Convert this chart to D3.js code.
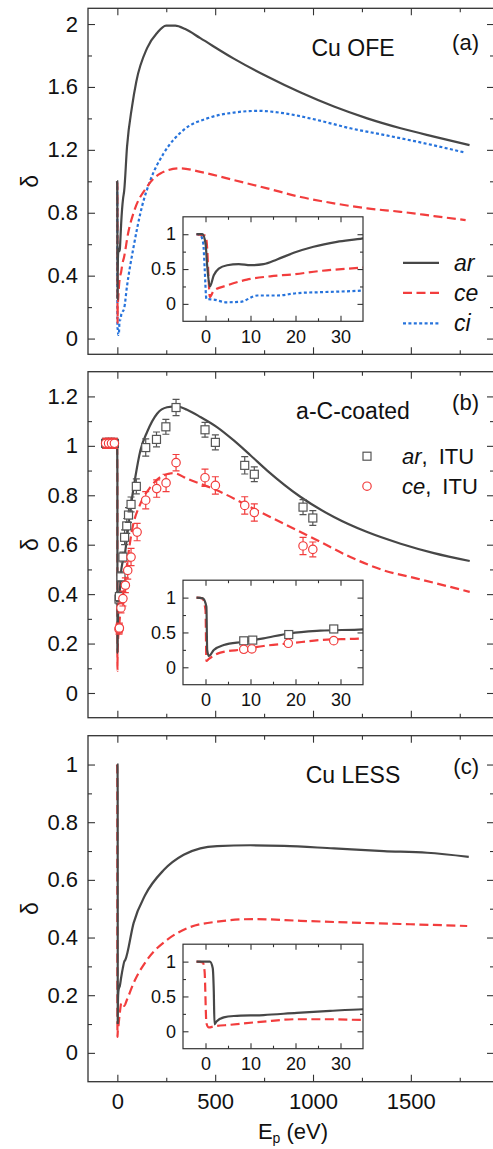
<!DOCTYPE html>
<html>
<head>
<meta charset="utf-8">
<script src="https://cdn.jsdelivr.net/npm/d3@7"></script>
<style>
  html, body { margin: 0; padding: 0; background: #fff; }
  svg { display: block; font-family: "Liberation Sans", Arial, Helvetica, sans-serif; }
</style>
</head>
<body>
<svg id="chart" width="493" height="1149"></svg>
<script>
// Tick values
const energyTicks = [0, 500, 1000, 1500];
const energyMinor = [250, 750, 1250, 1750];
const insetXTicks = [0, 10, 20, 30];
const insetXMinor = [5, 15, 25];
const insetYTicks = [0, 0.5, 1];
const insetYMinor = [0.25, 0.75];

// (a) Cu OFE
const ofeYTicks = [0, 0.4, 0.8, 1.2, 1.6, 2];
const ofeYMinor = [0.2, 0.6, 1.0, 1.4, 1.8];
const ofeArE = [-2, -0.7, 0, 0.4, 0.96, 1.84, 2.95, 4.8, 7.4, 10, 12.9, 15.9, 19.6, 24, 29.2, 35, 49.5, 75, 97, 152, 203, 249, 296, 347, 424, 595, 766, 937, 1107, 1277, 1448, 1618, 1800];
const ofeArD = [1.0, 1.0, 0.87, 0.53, 0.25, 0.41, 0.507, 0.555, 0.57, 0.555, 0.57, 0.638, 0.733, 0.82, 0.89, 0.94, 1.22, 1.475, 1.635, 1.847, 1.943, 1.99, 1.99, 1.968, 1.91, 1.78, 1.666, 1.564, 1.475, 1.40, 1.337, 1.284, 1.23];
const ofeCeE = [-2, -1, 0, 0.4, 0.7, 0.96, 1.84, 4.8, 9.2, 14.4, 19.6, 25.5, 35, 55, 83, 152, 220, 322, 424, 595, 766, 937, 1107, 1277, 1448, 1618, 1780];
const ofeCeD = [1.0, 0.99, 0.98, 0.77, 0.34, 0.1, 0.19, 0.265, 0.348, 0.396, 0.425, 0.473, 0.522, 0.67, 0.80, 0.966, 1.05, 1.083, 1.06, 1.008, 0.955, 0.90, 0.86, 0.828, 0.806, 0.779, 0.753];
const ofeCiE = [-2, -1.1, -0.5, -0.2, 0.2, 1.84, 4.7, 7.8, 11.5, 15.9, 20.3, 25.5, 35, 49, 83, 126, 169, 237, 339, 459, 595, 722, 850, 1020, 1191, 1362, 1532, 1779];
const ofeCiD = [1.0, 0.98, 0.87, 0.53, 0.072, 0.062, 0.023, 0.03, 0.12, 0.12, 0.154, 0.168, 0.193, 0.33, 0.583, 0.84, 1.008, 1.178, 1.327, 1.40, 1.437, 1.448, 1.433, 1.39, 1.337, 1.295, 1.252, 1.182];

// (b) a-C-coated
const acYTicks = [0, 0.2, 0.4, 0.6, 0.8, 1, 1.2];
const acYMinor = [0.1, 0.3, 0.5, 0.7, 0.9, 1.1];
const acArE = [-2, -0.6, 0.2, 0.37, 0.74, 1.84, 4.06, 8.5, 12.9, 18.8, 25.5, 35, 41, 66, 92, 118, 152, 203, 254, 305, 356, 424, 509, 595, 680, 766, 937, 1107, 1277, 1448, 1618, 1801];
const acArD = [1.0, 0.99, 0.87, 0.248, 0.162, 0.248, 0.32, 0.367, 0.416, 0.488, 0.525, 0.545, 0.577, 0.739, 0.874, 0.982, 1.056, 1.13, 1.156, 1.16, 1.146, 1.117, 1.076, 1.022, 0.962, 0.90, 0.793, 0.712, 0.651, 0.604, 0.566, 0.534];
const acCeE = [-2, -0.7, 0, 0.2, 0.74, 3.3, 8.5, 12.9, 18.8, 25.5, 35, 45, 75, 118, 169, 237, 288, 356, 509, 680, 851, 1021, 1191, 1362, 1532, 1801];
const acCeD = [1.0, 0.99, 0.82, 0.09, 0.12, 0.21, 0.258, 0.306, 0.344, 0.392, 0.416, 0.49, 0.658, 0.766, 0.833, 0.881, 0.89, 0.867, 0.82, 0.752, 0.685, 0.618, 0.55, 0.496, 0.463, 0.409];
// ITU measurements
const ituArE = [-60, -45, -30, -15, 8.5, 10.5, 18.5, 28.5, 37, 48, 57, 70, 97, 145, 200, 248, 300, 448, 501, 651, 700, 949, 999];
const ituArD = [1.01, 1.01, 1.01, 1.01, 0.38, 0.39, 0.47, 0.55, 0.63, 0.676, 0.72, 0.763, 0.836, 0.993, 1.026, 1.077, 1.155, 1.065, 1.014, 0.921, 0.885, 0.752, 0.708];
const ituArErr = [0.02, 0.02, 0.02, 0.02, 0.02, 0.02, 0.02, 0.02, 0.03, 0.03, 0.03, 0.03, 0.03, 0.035, 0.03, 0.03, 0.033, 0.03, 0.03, 0.035, 0.03, 0.03, 0.03];
const ituCeE = [-60, -45, -30, -15, 8.5, 10.3, 18.4, 28.5, 41, 53, 70, 101, 145, 201, 249, 300, 448, 501, 651, 700, 949, 999];
const ituCeD = [1.01, 1.01, 1.01, 1.01, 0.258, 0.263, 0.344, 0.382, 0.436, 0.496, 0.55, 0.651, 0.78, 0.827, 0.85, 0.932, 0.871, 0.84, 0.759, 0.73, 0.595, 0.581];
const ituCeErr = [0.02, 0.02, 0.02, 0.02, 0.02, 0.02, 0.02, 0.03, 0.03, 0.035, 0.035, 0.035, 0.035, 0.035, 0.035, 0.033, 0.035, 0.035, 0.035, 0.035, 0.035, 0.03];

// (c) Cu LESS
const lessYTicks = [0, 0.2, 0.4, 0.6, 0.8, 1];
const lessYMinor = [0.1, 0.3, 0.5, 0.7, 0.9];
const lessArE = [-2, 0.96, 1.6, 1.84, 2.0, 2.44, 4.06, 6.3, 12.9, 20.3, 27.7, 35, 41, 83, 143, 237, 339, 424, 510, 680, 851, 1107, 1362, 1583, 1796];
const lessArD = [1.0, 1.0, 0.91, 0.58, 0.1, 0.14, 0.2, 0.219, 0.233, 0.265, 0.293, 0.316, 0.323, 0.45, 0.548, 0.634, 0.687, 0.709, 0.717, 0.72, 0.718, 0.709, 0.70, 0.694, 0.68];
const lessCeE = [-2, -0.6, -0.2, 0.2, 0.74, 1.84, 5.5, 12.9, 20.3, 27.7, 35, 49, 83, 152, 254, 356, 509, 697, 937, 1191, 1448, 1788];
const lessCeD = [1.0, 0.99, 0.86, 0.117, 0.055, 0.07, 0.093, 0.14, 0.173, 0.173, 0.163, 0.184, 0.242, 0.323, 0.392, 0.432, 0.455, 0.464, 0.458, 0.452, 0.447, 0.44];

const COL = { ar: "#474747", ce: "#f23d3d", ci: "#2673dc", axis: "#333" };
const STYLE = {
  ar: { color: COL.ar, dash: null },
  ce: { color: COL.ce, dash: "9,4.5" },
  ci: { color: COL.ci, dash: "3,2.4" },
};

const PANEL_H = 346;
const FRAME_L = 88, FRAME_R = 494;
const INSET = { x0: 183, x1: 363, top: 208.5, h: 104.5 };

const svg = d3.select("#chart");

const zip = (xs, ys) => xs.map((v, i) => [v, ys[i]]);

// inward ticks on one side of a frame
function frameTicks(g, scale, orient, values, size, fmt, pad, fontSize, at) {
  const mk = { left: d3.axisLeft, right: d3.axisRight, top: d3.axisTop, bottom: d3.axisBottom }[orient];
  const ax = mk(scale)
    .tickValues(values)
    .tickSize(-size)
    .tickPadding(pad)
    .tickFormat(fmt || (() => ""));
  const pos = orient === "left" || orient === "right" ? `translate(${at},0)` : `translate(0,${at})`;
  const a = g.append("g").attr("transform", pos).call(ax);
  a.select(".domain").remove();
  a.selectAll("line").attr("stroke", COL.axis).attr("stroke-width", 1.1);
  a.selectAll("text").attr("fill", "#111").attr("font-size", fontSize).attr("font-family", null);
  return a;
}

function drawSeries(g, x, y, s, clipId) {
  const line = d3.line().x((d) => x(d[0])).y((d) => y(d[1])).curve(d3.curveMonotoneX);
  g.append("path")
    .attr("clip-path", `url(#${clipId})`)
    .attr("d", line(zip(s.E, s.D)))
    .attr("fill", "none")
    .attr("stroke", STYLE[s.key].color)
    .attr("stroke-width", 2.2)
    .attr("stroke-dasharray", STYLE[s.key].dash);
}

function drawPoints(g, x, y, pts, clipId) {
  pts.forEach((p) => {
    const gg = g.append("g").attr("clip-path", `url(#${clipId})`);
    const data = p.E.map((e, i) => ({ e, d: p.D[i], err: p.err[i] }));
    const grp = gg.selectAll("g").data(data).enter().append("g")
      .attr("stroke", p.color).attr("fill", "none").attr("stroke-width", 1.2);
    grp.append("line")
      .attr("x1", (d) => x(d.e)).attr("x2", (d) => x(d.e))
      .attr("y1", (d) => y(d.d - d.err)).attr("y2", (d) => y(d.d + d.err));
    [-1, 1].forEach((sgn) => {
      grp.append("line")
        .attr("x1", (d) => x(d.e) - 3.5).attr("x2", (d) => x(d.e) + 3.5)
        .attr("y1", (d) => y(d.d + sgn * d.err)).attr("y2", (d) => y(d.d + sgn * d.err));
    });
    if (p.shape === "square") {
      grp.append("rect")
        .attr("x", (d) => x(d.e) - 4).attr("y", (d) => y(d.d) - 4)
        .attr("width", 8).attr("height", 8).attr("fill", "#fff");
    } else {
      grp.append("circle")
        .attr("cx", (d) => x(d.e)).attr("cy", (d) => y(d.d))
        .attr("r", 4.2).attr("fill", "#fff");
    }
  });
}

function drawPanel(p, idx) {
  const g = svg.append("g").attr("transform", `translate(0,${p.top})`);
  const x = d3.scaleLinear().domain([-150, 1925]).range([FRAME_L, FRAME_R]);
  const y = d3.scaleLinear().domain(p.yDomain).range([PANEL_H, 0]);
  const clipMain = `clip-main-${idx}`, clipIn = `clip-in-${idx}`;
  const defs = g.append("defs");
  defs.append("clipPath").attr("id", clipMain).append("rect")
    .attr("x", FRAME_L).attr("y", 0).attr("width", FRAME_R - FRAME_L).attr("height", PANEL_H);
  defs.append("clipPath").attr("id", clipIn).append("rect")
    .attr("x", INSET.x0).attr("y", INSET.top).attr("width", INSET.x1 - INSET.x0).attr("height", INSET.h);

  // main curves
  p.series.forEach((s) => drawSeries(g, x, y, s, clipMain));
  if (p.points) drawPoints(g, x, y, p.points, clipMain);

  // main frame ticks
  const fmt = (d) => String(+d.toFixed(2));
  frameTicks(g, y, "left", p.yTicks, 7, fmt, 10, 22, FRAME_L);
  frameTicks(g, y, "left", p.yMinor, 4, null, 0, 0, FRAME_L);
  frameTicks(g, y, "right", p.yTicks, 7, null, 0, 0, FRAME_R);
  frameTicks(g, y, "right", p.yMinor, 4, null, 0, 0, FRAME_R);
  frameTicks(g, x, "top", energyTicks, 7, null, 0, 0, 0);
  frameTicks(g, x, "top", energyMinor, 4, null, 0, 0, 0);
  frameTicks(g, x, "bottom", energyTicks, 7, p.xLabels ? fmt : null, 12, 22, PANEL_H);
  frameTicks(g, x, "bottom", energyMinor, 4, null, 0, 0, PANEL_H);
  g.append("rect")
    .attr("x", FRAME_L).attr("y", 0).attr("width", FRAME_R - FRAME_L).attr("height", PANEL_H)
    .attr("fill", "none").attr("stroke", COL.axis).attr("stroke-width", 1.3);

  // y label
  g.append("text")
    .attr("transform", `translate(30,${PANEL_H / 2}) rotate(-90)`)
    .attr("text-anchor", "middle").attr("dy", "0.35em")
    .attr("font-size", 23).attr("fill", "#111").text("δ");

  // annotation texts
  g.append("text").attr("x", 353).attr("y", 47.5).attr("text-anchor", "middle")
    .attr("font-size", 23).attr("fill", "#111").text(p.title);
  g.append("text").attr("x", 479).attr("y", p.labelY).attr("text-anchor", "end")
    .attr("font-size", 22).attr("fill", "#111").text(p.label);

  // inset
  const xi = d3.scaleLinear().domain([-5, 35]).range([INSET.x0, INSET.x1]);
  const yi = d3.scaleLinear().domain([-0.25, 1.25]).range([INSET.top + INSET.h, INSET.top]);
  g.append("rect")
    .attr("x", INSET.x0).attr("y", INSET.top).attr("width", INSET.x1 - INSET.x0).attr("height", INSET.h)
    .attr("fill", "#fff");
  p.series.forEach((s) => drawSeries(g, xi, yi, s, clipIn));
  if (p.points) drawPoints(g, xi, yi, p.points.map((q) => ({ ...q, err: q.err.map(() => 0) })), clipIn);
  frameTicks(g, yi, "left", insetYTicks, 5.5, fmt, 7, 18, INSET.x0);
  frameTicks(g, yi, "left", insetYMinor, 3, null, 0, 0, INSET.x0);
  frameTicks(g, yi, "right", insetYTicks, 5.5, null, 0, 0, INSET.x1);
  frameTicks(g, yi, "right", insetYMinor, 3, null, 0, 0, INSET.x1);
  frameTicks(g, xi, "bottom", insetXTicks, 5.5, fmt, 9, 18, INSET.top + INSET.h);
  frameTicks(g, xi, "bottom", insetXMinor, 3, null, 0, 0, INSET.top + INSET.h);
  frameTicks(g, xi, "top", insetXTicks, 5.5, null, 0, 0, INSET.top);
  frameTicks(g, xi, "top", insetXMinor, 3, null, 0, 0, INSET.top);
  g.append("rect")
    .attr("x", INSET.x0).attr("y", INSET.top).attr("width", INSET.x1 - INSET.x0).attr("height", INSET.h)
    .attr("fill", "none").attr("stroke", COL.axis).attr("stroke-width", 1.2);

  if (p.legend) p.legend(g);
  return g;
}

const panels = [
  {
    top: 8.3, yDomain: [-0.1, 2.1], yTicks: ofeYTicks, yMinor: ofeYMinor,
    title: "Cu OFE", label: "(a)", labelY: 41.5,
    series: [
      { key: "ci", E: ofeCiE, D: ofeCiD },
      { key: "ce", E: ofeCeE, D: ofeCeD },
      { key: "ar", E: ofeArE, D: ofeArD },
    ],
    legend: (g) => {
      [["ar", 254.5], ["ce", 284.5], ["ci", 315]].forEach(([k, yy]) => {
        g.append("line").attr("x1", 403).attr("x2", 439).attr("y1", yy).attr("y2", yy)
          .attr("stroke", STYLE[k].color).attr("stroke-width", 2.2)
          .attr("stroke-dasharray", STYLE[k].dash);
        g.append("text").attr("x", 454).attr("y", yy).attr("dy", "0.35em")
          .attr("font-size", 23).attr("font-style", "italic").attr("fill", "#111").text(k);
      });
    },
  },
  {
    top: 371.7, yDomain: [-0.1, 1.3], yTicks: acYTicks, yMinor: acYMinor,
    title: "a-C-coated", label: "(b)", labelY: 38.5,
    series: [
      { key: "ce", E: acCeE, D: acCeD },
      { key: "ar", E: acArE, D: acArD },
    ],
    points: [
      { shape: "square", color: "#555", E: ituArE, D: ituArD, err: ituArErr },
      { shape: "circle", color: COL.ce, E: ituCeE, D: ituCeD, err: ituCeErr },
    ],
    legend: (g) => {
      [["ar", 84.5, "square", "#555"], ["ce", 114.5, "circle", COL.ce]].forEach(([k, yy, shape, c]) => {
        if (shape === "square") {
          g.append("rect").attr("x", 363).attr("y", yy - 4).attr("width", 8).attr("height", 8)
            .attr("fill", "#fff").attr("stroke", c).attr("stroke-width", 1.2);
        } else {
          g.append("circle").attr("cx", 367).attr("cy", yy).attr("r", 4.2)
            .attr("fill", "#fff").attr("stroke", c).attr("stroke-width", 1.2);
        }
        const t = g.append("text").attr("x", 402).attr("y", yy).attr("dy", "0.35em")
          .attr("font-size", 22).attr("fill", "#111");
        t.append("tspan").attr("font-style", "italic").text(k);
        t.append("tspan").text(",\u2002ITU");
      });
    },
  },
  {
    top: 735.7, yDomain: [-0.1, 1.1], yTicks: lessYTicks, yMinor: lessYMinor,
    title: "Cu LESS", label: "(c)", labelY: 38.5, xLabels: true,
    series: [
      { key: "ce", E: lessCeE, D: lessCeD },
      { key: "ar", E: lessArE, D: lessArD },
    ],
  },
];

panels.forEach((p, i) => drawPanel(p, i));

// x axis title
const xt = svg.append("text").attr("x", 293).attr("y", 1139).attr("text-anchor", "middle")
  .attr("font-size", 22).attr("fill", "#111");
xt.append("tspan").text("E");
xt.append("tspan").attr("font-size", 14).attr("dy", 4).text("p");
xt.append("tspan").attr("dy", -4).text(" (eV)");
</script>
</body>
</html>
